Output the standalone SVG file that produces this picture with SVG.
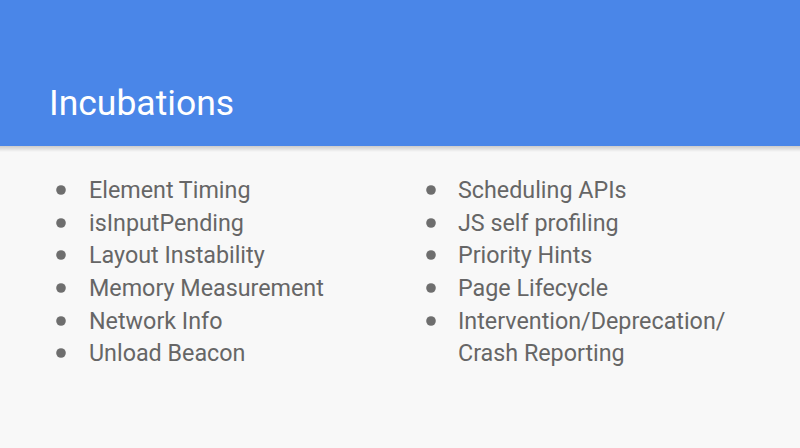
<svg xmlns="http://www.w3.org/2000/svg" width="800" height="448" viewBox="0 0 800 448">
<defs>
<linearGradient id="sh" x1="0" y1="0" x2="0" y2="1">
<stop offset="0" stop-color="#000" stop-opacity="0.18"/>
<stop offset="1" stop-color="#000" stop-opacity="0"/>
</linearGradient>
<style>
.t{font-family:Roboto,"Liberation Sans",sans-serif;font-size:23.3px;fill:#666666}
.d{fill:#6e6e6e}
</style>
</defs>
<rect width="800" height="448" fill="#f8f8f8"/>
<rect width="800" height="146" fill="#4a86e8"/>
<rect y="146" width="800" height="6" fill="url(#sh)"/>
<text x="49" y="115" font-family="Roboto,'Liberation Sans',sans-serif" font-size="35.5" fill="#ffffff">Incubations</text>
<g id="left">
<circle class="d" cx="61" cy="190" r="4.8"/><text class="t" x="89" y="198">Element Timing</text>
<circle class="d" cx="61" cy="223" r="4.8"/><text class="t" x="89" y="231">isInputPending</text>
<circle class="d" cx="61" cy="255" r="4.8"/><text class="t" x="89" y="263">Layout Instability</text>
<circle class="d" cx="61" cy="288" r="4.8"/><text class="t" x="89" y="296">Memory Measurement</text>
<circle class="d" cx="61" cy="321" r="4.8"/><text class="t" x="89" y="329">Network Info</text>
<circle class="d" cx="61" cy="353" r="4.8"/><text class="t" x="89" y="361">Unload Beacon</text>
</g>
<g id="right">
<circle class="d" cx="431" cy="190" r="4.8"/><text class="t" x="458" y="198">Scheduling APIs</text>
<circle class="d" cx="431" cy="223" r="4.8"/><text class="t" x="458" y="231">JS self profiling</text>
<circle class="d" cx="431" cy="255" r="4.8"/><text class="t" x="458" y="263">Priority Hints</text>
<circle class="d" cx="431" cy="288" r="4.8"/><text class="t" x="458" y="296">Page Lifecycle</text>
<circle class="d" cx="431" cy="321" r="4.8"/><text class="t" x="458" y="329">Intervention/Deprecation/</text>
<text class="t" x="458" y="361">Crash Reporting</text>
</g>
</svg>
